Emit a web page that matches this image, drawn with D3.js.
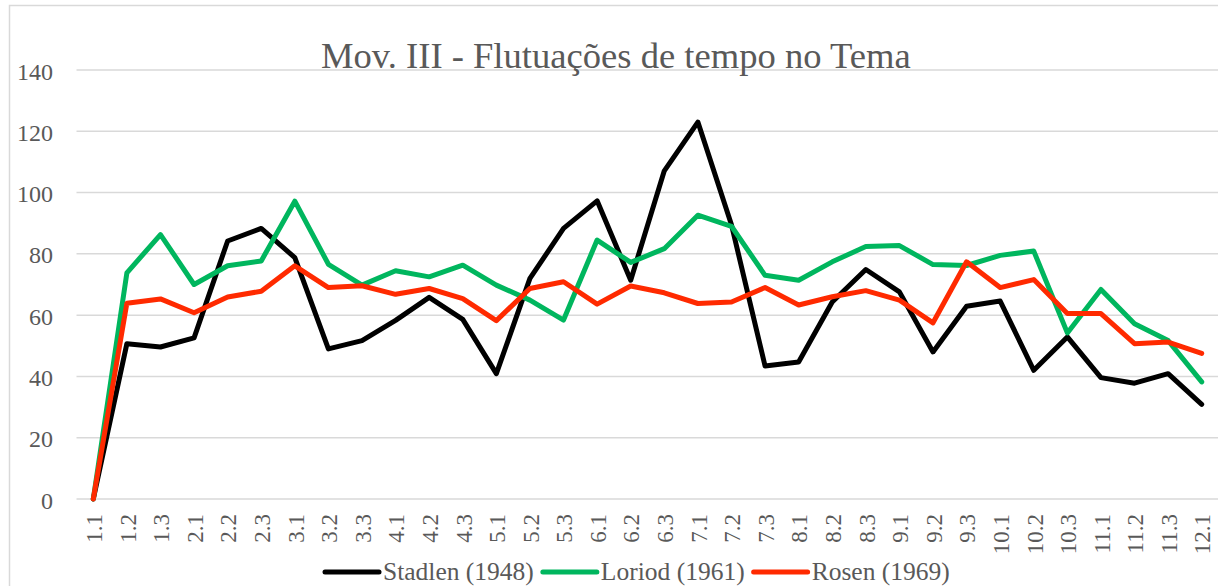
<!DOCTYPE html>
<html>
<head>
  <meta charset="utf-8">
  <title>Mov. III - Flutuações de tempo no Tema</title>
  <script src="https://d3js.org/d3.v7.min.js"></script>
  <style>
    body { margin: 0; background: #fff; }
    svg { display: block; }
  </style>
</head>
<body>
<svg class="chart"></svg>
<script>

// Sections of the theme (x categories)
const sections = ["1.1","1.2","1.3","2.1","2.2","2.3","3.1","3.2","3.3","4.1","4.2","4.3",
  "5.1","5.2","5.3","6.1","6.2","6.3","7.1","7.2","7.3","8.1","8.2","8.3",
  "9.1","9.2","9.3","10.1","10.2","10.3","11.1","11.2","11.3","12.1"];

// Tempo values
const stadlen = [0, 50.7, 49.6, 52.6, 84.2, 88.3, 78.8, 49, 51.7, 58.3, 65.8, 58.6,
  40.9, 72, 88.3, 97.3, 71.4, 107.1, 123, 89.5, 43.4, 44.7, 64.3, 74.9,
  67.6, 48, 62.9, 64.6, 42, 52.9, 39.6, 37.8, 40.9, 30.9];
const loriod = [0, 73.8, 86.3, 70, 76.1, 77.7, 97.2, 76.6, 69.8, 74.5, 72.5, 76.3,
  69.8, 64.9, 58.4, 84.5, 77.2, 81.7, 92.6, 89, 73, 71.4, 77.4, 82.4,
  82.7, 76.5, 76.2, 79.5, 80.9, 54.2, 68.4, 57.2, 51.7, 38.2];
const rosen = [0, 63.9, 65.3, 60.8, 65.9, 67.8, 76.1, 69, 69.6, 66.8, 68.7, 65.4,
  58.2, 68.7, 70.9, 63.6, 69.5, 67.3, 63.8, 64.3, 69, 63.3, 66, 68,
  64.9, 57.5, 77.4, 69, 71.6, 60.5, 60.5, 50.7, 51.2, 47.5];

const seriesNames = ["Stadlen (1948)", "Loriod (1961)", "Rosen (1969)"];
const seriesColors = ["#000000", "#00b65e", "#ff2a00"];
const yTicks = [0, 20, 40, 60, 80, 100, 120, 140];
const title = "Mov. III - Flutuações de tempo no Tema";

const W = 1218, H = 586;
const plot = {left: 76.5, right: 1218.5, top: 70, bottom: 499};
const textGray = "#595959";
const gridGray = "#d9d9d9";
const serif = "'Liberation Serif', serif";

const svg = d3.select(".chart")
  .attr("width", W)
  .attr("height", H);

// chart frame (cut off on the right and bottom like the source)
svg.append("rect")
  .attr("x", 9.5).attr("y", 5.5)
  .attr("width", W + 20).attr("height", H + 20)
  .attr("fill", "#fff")
  .attr("stroke", gridGray)
  .attr("stroke-width", 1.5);

// scales
const x = d3.scalePoint()
  .domain(sections)
  .range([plot.left, plot.right])
  .padding(0.5);

const y = d3.scaleLinear()
  .domain([0, 140])
  .range([plot.bottom, plot.top]);

// gridlines
svg.append("g")
  .selectAll("line")
  .data(yTicks)
  .join("line")
    .attr("x1", plot.left)
    .attr("x2", plot.right)
    .attr("y1", d => y(d))
    .attr("y2", d => y(d))
    .attr("stroke", gridGray)
    .attr("stroke-width", 1.5);

// y axis labels
const yAxis = svg.append("g")
  .attr("transform", "translate(53,0)")
  .call(d3.axisLeft(y).tickValues(yTicks).tickSize(0).tickPadding(0));
yAxis.select(".domain").remove();
yAxis.selectAll("text")
  .attr("fill", textGray)
  .attr("dy", "0.38em")
  .style("font-family", serif)
  .style("font-size", "24px");

// x axis labels (rotated)
const xAxis = svg.append("g")
  .attr("transform", `translate(0,${plot.bottom})`)
  .call(d3.axisBottom(x).tickSize(0).tickPadding(0));
xAxis.select(".domain").remove();
xAxis.selectAll("text")
  .attr("fill", textGray)
  .attr("text-anchor", "end")
  .attr("transform", "translate(0,15) rotate(-90)")
  .attr("x", 0)
  .attr("y", 0)
  .attr("dy", "0.36em")
  .style("font-family", serif)
  .style("font-size", "23px");

// title
svg.append("text")
  .attr("x", 321)
  .attr("y", 68)
  .attr("fill", textGray)
  .style("font-family", serif)
  .style("font-size", "36.6px")
  .text(title);

// lines
const line = d3.line()
  .x((d, i) => x(sections[i]))
  .y(d => y(d));

svg.append("g")
  .selectAll("path")
  .data([stadlen, loriod, rosen])
  .join("path")
    .attr("d", line)
    .attr("fill", "none")
    .attr("stroke", (d, i) => seriesColors[i])
    .attr("stroke-width", 5)
    .attr("stroke-linejoin", "round")
    .attr("stroke-linecap", "round");

// legend, laid out left to right
const legend = svg.append("g");
let lx = 325;
seriesNames.forEach(function(name, i) {
  legend.append("line")
    .attr("x1", lx).attr("x2", lx + 54)
    .attr("y1", 572).attr("y2", 572)
    .attr("stroke", seriesColors[i])
    .attr("stroke-width", 5)
    .attr("stroke-linecap", "round");
  const t = legend.append("text")
    .attr("x", lx + 58)
    .attr("y", 580)
    .attr("fill", textGray)
    .style("font-family", serif)
    .style("font-size", "25.5px")
    .text(name);
  lx += 58 + t.node().getComputedTextLength() + 9;
});

</script>
</body>
</html>
